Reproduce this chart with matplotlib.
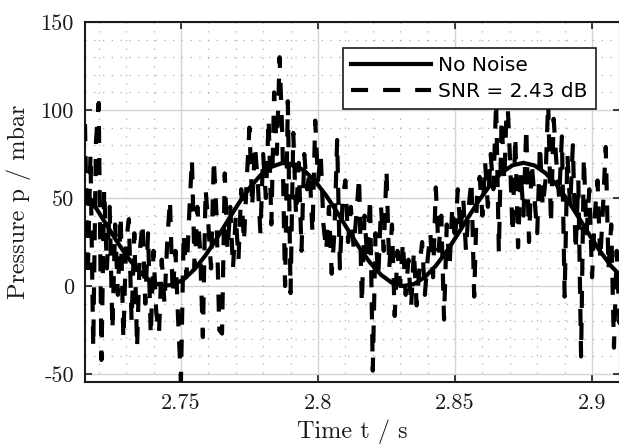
import matplotlib
matplotlib.use("Agg")
import matplotlib.pyplot as plt
from matplotlib.ticker import FixedLocator, FixedFormatter, MultipleLocator
import numpy as np

# time grids (start time and sample spacing)
T_START = 2.715
DT_NOISY = 0.001
DT_CLEAN = 0.004

# pressure in mbar, clean signal sampled every 4 ms
clean_p = [53.6, 44.4, 34.4, 24.5, 15.4, 8.0, 2.7, 0.2, 0.6, 3.8,
           9.6, 17.5, 26.8, 36.9, 46.8, 55.7, 62.9, 67.7, 69.9, 69.2,
           65.6, 59.5, 51.4, 41.9, 31.8, 22.0, 13.3, 6.4, 1.8, 0.0,
           1.1, 5.1, 11.5, 19.8, 29.4, 39.5, 49.2, 57.7, 64.4, 68.6,
           70.0, 68.5, 64.2, 57.6, 49.0, 39.3, 29.2, 19.6, 11.3, 4.9, 1.1]

# pressure in mbar, noisy signal sampled every 1 ms
noisy_p = [92, 5, 75, -35, 82, 104, -42, 55, 10, 45, -25, 35, -5, 40, -30, 25, 38, -20, 30, -35, 20, 36, -10, 30, -28,
           20, -15, -27, 15, -10, 25, 49, -5, 20, -20, -54, 30, 5, 40, 72, 10, 45, 20, -29, 55, 35, 10, 72, 40, -25,
           -27, 64, 20, 45, 10, 40, 15, 55, 25, 60, 90, 45, 80, 60, 30, 75, 50, 95, 35, 110, 75, 130, 85, 0, 105,
           -4, 87, 40, 70, 20, 75, 55, 65, 30, 94, 60, 75, 35, 20, 45, 7, 30, 83, 10, 50, 60, 25, 45, 22, 40,
           62, -10, 40, 15, 50, -48, 30, 5, 45, 20, 66, 10, 35, -17, 20, 0, 25, -5, 15, -12, 20, -11, 10, 25, -5,
           15, 30, 5, 56, 20, 40, -19, 35, 10, 45, 25, 55, 30, 50, 20, 45, 60, -6, 50, 62, 40, 70, 45, 75, 55,
           105, 19, 95, 60, 110, 75, 30, 85, 22, 65, 40, 90, 25, 70, 50, 30, 80, 45, 60, 105, 35, 95, 70, 50, 85,
           -6, 75, 45, 80, 20, 60, -40, 73, 30, 55, 5, 40, 60, 15, 45, 79, 10, 35, -35, 20, -21, 25, 0]

x_ticks = [2.75, 2.8, 2.85, 2.9]
x_ticklabels = ["2.75", "2.8", "2.85", "2.9"]
y_ticks = [-50, 0, 50, 100, 150]
y_ticklabels = ["-50", "0", "50", "100", "150"]

t_clean = T_START + DT_CLEAN * np.arange(len(clean_p))
t_noisy = T_START + DT_NOISY * np.arange(len(noisy_p))

plt.rcParams.update({
    "font.family": "serif",
    "font.serif": ["cmr10"],
    "axes.formatter.use_mathtext": True,
})

fig = plt.figure(figsize=(6.19, 4.47), dpi=100)
ax = fig.add_axes([85 / 619, 65 / 447, 535 / 619, 360 / 447])

axis_col = "#1a1a1a"
ax.plot(t_noisy, noisy_p, color="black", lw=3.0, dashes=(4.1, 3.6),
        label="SNR = 2.43 dB", zorder=3)
ax.plot(t_clean, clean_p, color="black", lw=3.0, label="No Noise", zorder=4)

ax.set_xlim(2.715, 2.9102)
ax.set_ylim(-54.5, 150)

ax.xaxis.set_major_locator(FixedLocator(x_ticks))
ax.xaxis.set_major_formatter(FixedFormatter(x_ticklabels))
ax.yaxis.set_major_locator(FixedLocator(y_ticks))
ax.yaxis.set_major_formatter(FixedFormatter(y_ticklabels))
ax.xaxis.set_minor_locator(MultipleLocator(0.01))
ax.yaxis.set_minor_locator(MultipleLocator(10))

ax.tick_params(which="major", direction="in", length=5, width=1.2, color=axis_col,
               top=True, right=True, labelsize=16, labelcolor=axis_col, pad=8)
ax.tick_params(which="minor", length=0)

ax.grid(which="major", color="#d4d4d4", lw=1.0, ls="-")
ax.grid(which="minor", color="#b0b0b0", lw=0.9, ls=(0, (1, 6)))
ax.set_axisbelow(True)

for sp in ax.spines.values():
    sp.set_color(axis_col)
    sp.set_linewidth(1.5)

ax.set_xlabel("Time t / s", fontsize=17.5, color=axis_col, labelpad=5)
ax.set_ylabel("Pressure p / mbar", fontsize=17.5, color=axis_col, labelpad=7)

handles, labels = ax.get_legend_handles_labels()
leg = ax.legend(handles[::-1], labels[::-1], loc="upper right",
                bbox_to_anchor=(0.955, 0.928), borderaxespad=0,
                prop={"family": "DejaVu Sans", "size": 14.5},
                handlelength=4.0, handletextpad=0.35, labelspacing=0.35,
                borderpad=0.4, fancybox=False, framealpha=1.0,
                edgecolor=axis_col)
leg.get_frame().set_linewidth(1.2)
leg.set_zorder(10)

fig.savefig("out.png", dpi=100)
